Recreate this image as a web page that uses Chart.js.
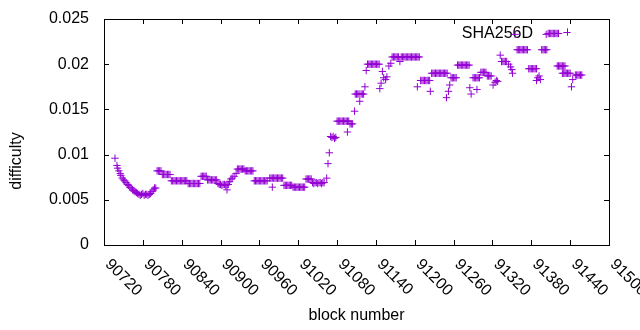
<!DOCTYPE html>
<html>
<head>
<meta charset="utf-8">
<style>
  html, body { margin: 0; padding: 0; background: #fff; }
  #wrap { width: 640px; height: 330px; }
</style>
<script src="https://cdn.jsdelivr.net/npm/chart.js@4.4.0/dist/chart.umd.min.js"></script>
</head>
<body>
<div id="wrap"><canvas id="chart" width="640" height="330"></canvas></div>
<script>
// block number / difficulty (runs of equal difficulty kept as several points)
const blocks = [
  90737, 90740, 90741, 90743, 90745, 90746, 90748, 90750, 90752, 90754, 90756, 90758, 90760, 90762, 90764, 90766, 90768, 90770,
  90772, 90774, 90776, 90778, 90780, 90782, 90784, 90786, 90788, 90790, 90792,
  90794, 90796, 90798, 90800,
  90802, 90804, 90806, 90808,
  90810, 90812, 90814, 90816, 90818, 90820, 90822,
  90824, 90826, 90828, 90830, 90832, 90834, 90836, 90838, 90840, 90842, 90844, 90846, 90848,
  90850, 90852, 90854, 90856, 90858, 90860, 90862, 90864, 90866, 90868,
  90870, 90872, 90874, 90876, 90878,
  90880, 90882, 90884, 90886, 90888, 90890, 90892, 90894,
  90896, 90898, 90900, 90902, 90904, 90906, 90908, 90910, 90912,
  90910,
  90914, 90916, 90918, 90921, 90924,
  90926, 90928, 90930, 90932, 90934, 90936,
  90938, 90940, 90942, 90944, 90946, 90948, 90950,
  90952, 90954, 90956, 90958, 90960, 90962, 90964, 90966, 90968, 90970, 90972,
  90976, 90978, 90980, 90982, 90984, 90986, 90988, 90990, 90992, 90994, 90996,
  90980,
  90998, 91000, 91002, 91004, 91006, 91008, 91010,
  91012, 91014, 91016, 91018, 91020, 91022, 91024, 91026, 91028, 91030,
  91032, 91034, 91036, 91038, 91040,
  91042, 91044, 91046, 91048, 91050, 91052, 91054, 91056, 91058, 91060,
  91064, 91066, 91068,
  91070, 91072, 91074, 91076, 91078,
  91080, 91082, 91084, 91086, 91088, 91090, 91092, 91094, 91096, 91098,
  91096,
  91100, 91102, 91104,
  91107,
  91108, 91110, 91112, 91114,
  91115,
  91117, 91119, 91121,
  91123, 91125,
  91127, 91129, 91131, 91133, 91135, 91137, 91139, 91141, 91143, 91145,
  91146, 91148, 91150, 91152, 91155, 91157, 91160, 91163,
  91165, 91167, 91169, 91171, 91173, 91175,
  91177,
  91179, 91181, 91183, 91185, 91187, 91189, 91191, 91193, 91195, 91197, 91199, 91201, 91203, 91205, 91207,
  91204,
  91209, 91211, 91213, 91215, 91217, 91219, 91221, 91223,
  91224,
  91226, 91228, 91230, 91232, 91234, 91236, 91238, 91240, 91242, 91244, 91246, 91248, 91250,
  91249, 91252, 91254,
  91256, 91258, 91260, 91262, 91264,
  91266, 91268, 91270, 91272, 91274, 91276, 91278, 91280, 91282, 91284,
  91285, 91287,
  91290, 91292, 91294, 91296, 91298, 91300,
  91296,
  91302, 91304, 91306, 91308, 91310,
  91312, 91314, 91316, 91318,
  91321, 91324, 91326, 91328,
  91332,
  91334, 91336, 91338, 91340, 91342,
  91345, 91348, 91350, 91351,
  91355,
  91358, 91360, 91362, 91364, 91366, 91368, 91370, 91372, 91374,
  91376, 91378, 91380, 91382, 91384, 91386, 91388,
  91388, 91390, 91392, 91394,
  91396, 91398, 91400, 91402, 91404,
  91403,
  91406, 91408, 91410, 91412, 91414, 91416, 91418, 91420, 91422,
  91420, 91422, 91424, 91426, 91428, 91430, 91432,
  91428, 91430, 91432, 91434, 91436, 91438, 91440,
  91442, 91444,
  91448, 91450, 91452, 91454, 91456, 91458
];

const difficulty = [
  0.0096, 0.0088, 0.0085, 0.0082, 0.0079, 0.0077, 0.0074, 0.0072, 0.0071, 0.0069, 0.0067, 0.0066, 0.0064, 0.0063, 0.0061, 0.0060, 0.0059, 0.0058,
  0.0057, 0.0056, 0.0055, 0.0056, 0.0057, 0.0055, 0.0056, 0.0056, 0.0055, 0.0056, 0.0057,
  0.0059, 0.0061, 0.0063, 0.0063,
  0.0082, 0.0082, 0.0082, 0.0082,
  0.0078, 0.0078, 0.0078, 0.0078, 0.0078, 0.0078, 0.0078,
  0.0071, 0.0071, 0.0071, 0.0071, 0.0071, 0.0071, 0.0071, 0.0071, 0.0071, 0.0071, 0.0071, 0.0071, 0.0071,
  0.0068, 0.0068, 0.0068, 0.0068, 0.0068, 0.0068, 0.0068, 0.0068, 0.0068, 0.0068,
  0.0076, 0.0076, 0.0076, 0.0076, 0.0076,
  0.0072, 0.0072, 0.0072, 0.0072, 0.0072, 0.0072, 0.0072, 0.0072,
  0.0068, 0.0067, 0.0067, 0.0066, 0.0067, 0.0067, 0.0066, 0.0067, 0.0067,
  0.0061,
  0.0070, 0.0073, 0.0074, 0.0076, 0.0079,
  0.0084, 0.0084, 0.0084, 0.0084, 0.0084, 0.0084,
  0.0082, 0.0082, 0.0082, 0.0082, 0.0082, 0.0082, 0.0082,
  0.0071, 0.0071, 0.0071, 0.0071, 0.0071, 0.0071, 0.0071, 0.0071, 0.0071, 0.0071, 0.0071,
  0.0074, 0.0074, 0.0074, 0.0074, 0.0074, 0.0074, 0.0074, 0.0074, 0.0074, 0.0074, 0.0074,
  0.0064,
  0.0066, 0.0066, 0.0066, 0.0066, 0.0066, 0.0066, 0.0066,
  0.0064, 0.0064, 0.0064, 0.0064, 0.0064, 0.0064, 0.0064, 0.0064, 0.0064, 0.0064,
  0.0073, 0.0073, 0.0073, 0.0073, 0.0073,
  0.0069, 0.0068, 0.0069, 0.0069, 0.0068, 0.0069, 0.0069, 0.0068, 0.0069, 0.0069,
  0.0074, 0.0090, 0.0102,
  0.0120, 0.0119, 0.0120, 0.0118, 0.0119,
  0.0137, 0.0137, 0.0137, 0.0137, 0.0137, 0.0137, 0.0137, 0.0137, 0.0137, 0.0137,
  0.0125,
  0.0134, 0.0134, 0.0134,
  0.0148,
  0.0167, 0.0167, 0.0167, 0.0167,
  0.0159,
  0.0167, 0.0167, 0.0167,
  0.0175, 0.0193,
  0.0200, 0.0200, 0.0200, 0.0200, 0.0200, 0.0200, 0.0200, 0.0200, 0.0200, 0.0200,
  0.0173, 0.0179, 0.0192, 0.0185, 0.0183, 0.0186, 0.0198, 0.0201,
  0.0208, 0.0208, 0.0208, 0.0208, 0.0208, 0.0208,
  0.0203,
  0.0208, 0.0208, 0.0208, 0.0208, 0.0208, 0.0208, 0.0208, 0.0208, 0.0208, 0.0208, 0.0208, 0.0208, 0.0208, 0.0208, 0.0208,
  0.0175,
  0.0182, 0.0182, 0.0182, 0.0182, 0.0182, 0.0182, 0.0182, 0.0182,
  0.0170,
  0.0190, 0.0190, 0.0190, 0.0190, 0.0190, 0.0190, 0.0190, 0.0190, 0.0190, 0.0190, 0.0190, 0.0190, 0.0190,
  0.0163, 0.0170, 0.0177,
  0.0185, 0.0185, 0.0185, 0.0185, 0.0185,
  0.0199, 0.0199, 0.0199, 0.0199, 0.0199, 0.0199, 0.0199, 0.0199, 0.0199, 0.0199,
  0.0174, 0.0167,
  0.0185, 0.0185, 0.0185, 0.0185, 0.0185, 0.0185,
  0.0172,
  0.0191, 0.0191, 0.0191, 0.0191, 0.0191,
  0.0187, 0.0187, 0.0187, 0.0187,
  0.0177, 0.0180, 0.0182, 0.0181,
  0.0210,
  0.0203, 0.0203, 0.0203, 0.0203, 0.0203,
  0.0200, 0.0197, 0.0194, 0.0190,
  0.0233,
  0.0216, 0.0216, 0.0216, 0.0216, 0.0216, 0.0216, 0.0216, 0.0216, 0.0216,
  0.0195, 0.0195, 0.0195, 0.0195, 0.0195, 0.0195, 0.0195,
  0.0182, 0.0185, 0.0187, 0.0183,
  0.0216, 0.0216, 0.0216, 0.0216, 0.0216,
  0.0233,
  0.0234, 0.0234, 0.0234, 0.0234, 0.0234, 0.0234, 0.0234, 0.0234, 0.0234,
  0.0198, 0.0198, 0.0198, 0.0198, 0.0198, 0.0198, 0.0198,
  0.0190, 0.0190, 0.0190, 0.0190, 0.0190, 0.0190, 0.0190,
  0.0175, 0.0183,
  0.0188, 0.0188, 0.0188, 0.0188, 0.0188, 0.0188
];

const xTicks      = [90720, 90780, 90840, 90900, 90960, 91020, 91080, 91140, 91200, 91260, 91320, 91380, 91440, 91500];
const yTicks      = [0, 0.005, 0.01, 0.015, 0.02, 0.025];
const yTickLabels = ['0', '0.005', '0.01', '0.015', '0.02', '0.025'];
const seriesName  = 'SHA256D';

const purple = '#9400d3';
const fontFam = '"Liberation Sans", Arial, sans-serif';
Chart.defaults.font.family = fontFam;
Chart.defaults.font.size = 16;
Chart.defaults.color = '#000';

// gnuplot-like frame: box, inward mirror tics, rotated x labels, ylabel, key
const gnuFrame = {
  id: 'gnuFrame',
  beforeDatasetsDraw(chart) {
    const { ctx, chartArea: a, scales: { x, y } } = chart;
    const L = Math.round(a.left), T = Math.round(a.top);
    const R = Math.round(a.right), B = Math.round(a.bottom);
    ctx.save();
    ctx.strokeStyle = '#000';
    ctx.lineWidth = 1;
    ctx.strokeRect(L + 0.5, T + 0.5, R - L, B - T);

    ctx.beginPath();
    x.ticks.forEach(t => {
      const px = Math.round(x.getPixelForValue(t.value)) + 0.5;
      ctx.moveTo(px, B); ctx.lineTo(px, B - 5);
      ctx.moveTo(px, T + 1); ctx.lineTo(px, T + 5);
    });
    y.ticks.forEach(t => {
      const py = Math.round(y.getPixelForValue(t.value)) + 0.5;
      ctx.moveTo(L + 1, py); ctx.lineTo(L + 5, py);
      ctx.moveTo(R, py); ctx.lineTo(R - 5, py);
    });
    ctx.stroke();

    ctx.fillStyle = '#000';
    ctx.font = '16px ' + fontFam;

    // x tick labels, rotated down-right
    ctx.textAlign = 'left';
    ctx.textBaseline = 'alphabetic';
    x.ticks.forEach((t, i) => {
      const px = x.getPixelForValue(t.value);
      ctx.save();
      ctx.translate(px + 0.5, B + 20);
      ctx.rotate(Math.PI / 4);
      ctx.fillText(String(xTicks[i]), 0, 0);
      ctx.restore();
    });

    // y axis label
    ctx.save();
    ctx.translate(17, 161);
    ctx.rotate(-Math.PI / 2);
    ctx.textAlign = 'center';
    ctx.textBaseline = 'middle';
    ctx.fillText('difficulty', 0, 0);
    ctx.restore();

    // key
    ctx.textAlign = 'right';
    ctx.textBaseline = 'alphabetic';
    ctx.fillText(seriesName, 533, 37.5);
    ctx.strokeStyle = purple;
    ctx.beginPath();
    ctx.moveTo(567 - 3.7, 32.5); ctx.lineTo(567 + 3.7, 32.5);
    ctx.moveTo(567.5, 32 - 3.7); ctx.lineTo(567.5, 32 + 3.7);
    ctx.stroke();
    ctx.restore();
  }
};

new Chart(document.getElementById('chart'), {
  type: 'scatter',
  data: {
    datasets: [{
      label: seriesName,
      data: blocks.map((b, i) => ({ x: b, y: difficulty[i] })),
      pointStyle: 'cross',
      pointRadius: 3.7,
      borderColor: purple,
      backgroundColor: purple,
      borderWidth: 1,
      showLine: false
    }]
  },
  options: {
    responsive: false,
    animation: false,
    events: [],
    layout: { padding: { left: 0, right: 31, top: 19, bottom: 0 } },
    plugins: { legend: { display: false }, tooltip: { enabled: false } },
    scales: {
      x: {
        type: 'linear',
        min: 90720,
        max: 91500,
        afterBuildTicks: s => { s.ticks = xTicks.map(v => ({ value: v })); },
        afterFit: s => { s.height = 85; s.paddingLeft = 0; s.paddingRight = 0; },
        grid: { display: false, drawTicks: false },
        border: { display: false },
        ticks: { display: false },
        title: {
          display: true,
          text: 'block number',
          color: '#000',
          font: { size: 16 },
          padding: { top: 0, bottom: 5 }
        }
      },
      y: {
        min: 0,
        max: 0.025,
        afterBuildTicks: s => { s.ticks = yTicks.map(v => ({ value: v })); },
        afterFit: s => { s.width = 104; s.paddingTop = 0; s.paddingBottom = 0; },
        grid: { display: false, drawTicks: false },
        border: { display: false },
        ticks: {
          color: '#000',
          padding: 15,
          font: { size: 16 },
          callback: (v, i) => yTickLabels[i]
        }
      }
    }
  },
  plugins: [gnuFrame]
});
</script>
</body>
</html>
